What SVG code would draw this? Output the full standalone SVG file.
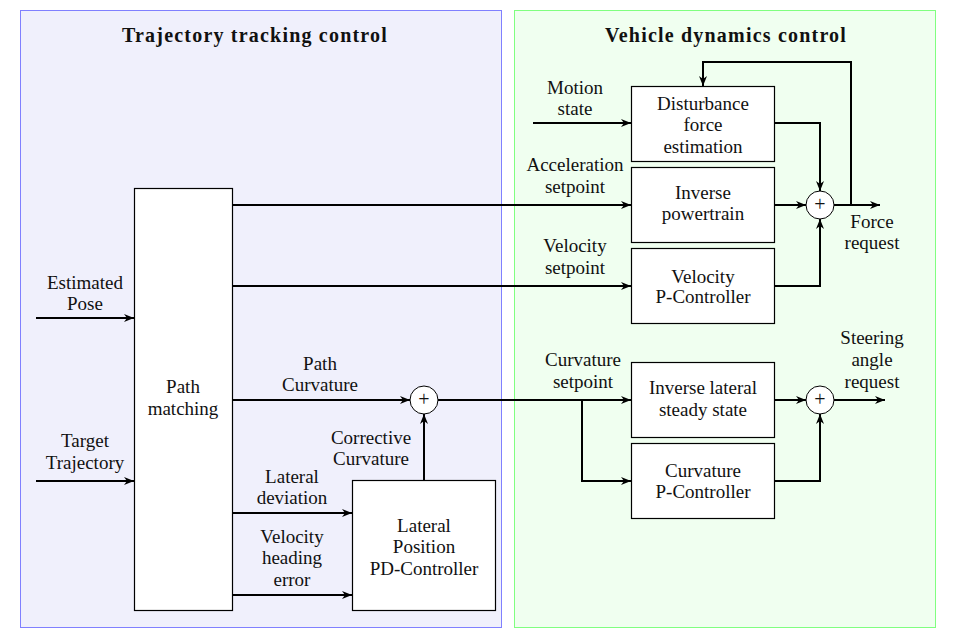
<svg xmlns="http://www.w3.org/2000/svg" width="957" height="643" viewBox="0 0 957 643">
<defs>
<marker id="ar" viewBox="0 0 10 10" refX="10" refY="5" markerWidth="10" markerHeight="10" markerUnits="userSpaceOnUse" orient="auto">
<path d="M0,1 L10,5 L0,9 L3,5 Z" fill="#000"/>
</marker>
</defs>
<style>
text{fill:#111;text-anchor:middle}
.t{font-weight:bold;letter-spacing:1.2px}
.box{fill:#fff;stroke:#000;stroke-width:1.2}
.sum{fill:#fff;stroke:#000;stroke-width:1}
.c{fill:none;stroke:#000;stroke-width:2}
.a{marker-end:url(#ar)}
</style>
<rect x="20.5" y="10.5" width="481" height="617" fill="#f0f0fc" stroke="#8080ff" stroke-width="1"/>
<rect x="514.5" y="10.5" width="421" height="617" fill="#f0fff0" stroke="#80ff80" stroke-width="1"/>
<text class="t" font-family="Liberation Serif" font-size="20" x="255" y="42">Trajectory tracking control</text>
<text class="t" font-family="Liberation Serif" font-size="20" x="726" y="42">Vehicle dynamics control</text>

<g id="connectors">
<path class="c a" d="M533,123 H631"/>
<path class="c a" d="M232,205 H631"/>
<path class="c a" d="M232,286 H631"/>
<path class="c a" d="M774,123 H820 V191"/>
<path class="c a" d="M774,205 H806"/>
<path class="c a" d="M774,286 H820 V219"/>
<path class="c a" d="M834,205 H880"/>
<path class="c a" d="M851,205 V62 H703 V86"/>
<path class="c a" d="M232,400 H410"/>
<path class="c a" d="M424,480 V414"/>
<path class="c a" d="M438,400 H631"/>
<path class="c a" d="M582,400 V481 H631"/>
<path class="c a" d="M774,400 H806"/>
<path class="c a" d="M774,481 H820 V414"/>
<path class="c a" d="M834,400 H885"/>
<path class="c a" d="M36,318 H134"/>
<path class="c a" d="M36,481 H134"/>
<path class="c a" d="M232,513 H352"/>
<path class="c a" d="M232,595 H352"/>
</g>

<g id="labels">
<text font-family="Liberation Serif" font-size="19" x="575" y="94">Motion</text><text font-family="Liberation Serif" font-size="19" x="575" y="115">state</text>
<text font-family="Liberation Serif" font-size="19" x="575" y="171">Acceleration</text><text font-family="Liberation Serif" font-size="19" x="575" y="193">setpoint</text>
<text font-family="Liberation Serif" font-size="19" x="575" y="252">Velocity</text><text font-family="Liberation Serif" font-size="19" x="575" y="274">setpoint</text>
<text font-family="Liberation Serif" font-size="19" x="872" y="228">Force</text><text font-family="Liberation Serif" font-size="19" x="872" y="249">request</text>
<text font-family="Liberation Serif" font-size="19" x="583" y="366">Curvature</text><text font-family="Liberation Serif" font-size="19" x="583" y="388">setpoint</text>
<text font-family="Liberation Serif" font-size="19" x="872" y="344">Steering</text><text font-family="Liberation Serif" font-size="19" x="872" y="366">angle</text><text font-family="Liberation Serif" font-size="19" x="872" y="388">request</text>
<text font-family="Liberation Serif" font-size="19" x="85" y="289">Estimated</text><text font-family="Liberation Serif" font-size="19" x="85" y="310">Pose</text>
<text font-family="Liberation Serif" font-size="19" x="85" y="447">Target</text><text font-family="Liberation Serif" font-size="19" x="85" y="469">Trajectory</text>
<text font-family="Liberation Serif" font-size="19" x="320" y="370">Path</text><text font-family="Liberation Serif" font-size="19" x="320" y="391">Curvature</text>
<text font-family="Liberation Serif" font-size="19" x="371" y="444">Corrective</text><text font-family="Liberation Serif" font-size="19" x="371" y="465">Curvature</text>
<text font-family="Liberation Serif" font-size="19" x="292" y="483">Lateral</text><text font-family="Liberation Serif" font-size="19" x="292" y="504">deviation</text>
<text font-family="Liberation Serif" font-size="19" x="292" y="543">Velocity</text><text font-family="Liberation Serif" font-size="19" x="292" y="564">heading</text><text font-family="Liberation Serif" font-size="19" x="292" y="586">error</text>
</g>

<g id="path-matching"><rect class="box" x="134.5" y="188.5" width="98" height="422"/>
<text font-family="Liberation Serif" font-size="19" x="183" y="393">Path</text><text font-family="Liberation Serif" font-size="19" x="183" y="415">matching</text></g>
<g id="lateral-pd"><rect class="box" x="352.5" y="480.5" width="143" height="130"/>
<text font-family="Liberation Serif" font-size="19" x="424" y="532">Lateral</text><text font-family="Liberation Serif" font-size="19" x="424" y="553">Position</text><text font-family="Liberation Serif" font-size="19" x="424" y="575">PD-Controller</text></g>
<g id="sum-left"><circle class="sum" cx="424" cy="400" r="14"/><text font-family="Liberation Serif" font-size="20" x="424" y="406">+</text></g>
<g id="disturbance"><rect class="box" x="631.5" y="86.5" width="143" height="75"/>
<text font-family="Liberation Serif" font-size="19" x="703" y="110">Disturbance</text><text font-family="Liberation Serif" font-size="19" x="703" y="131">force</text><text font-family="Liberation Serif" font-size="19" x="703" y="153">estimation</text></g>
<g id="inv-powertrain"><rect class="box" x="631.5" y="167.5" width="143" height="75"/>
<text font-family="Liberation Serif" font-size="19" x="703" y="199">Inverse</text><text font-family="Liberation Serif" font-size="19" x="703" y="220">powertrain</text></g>
<g id="velocity-p"><rect class="box" x="631.5" y="248.5" width="143" height="75"/>
<text font-family="Liberation Serif" font-size="19" x="703" y="283">Velocity</text><text font-family="Liberation Serif" font-size="19" x="703" y="303">P-Controller</text></g>
<g id="inv-lateral"><rect class="box" x="631.5" y="362.5" width="143" height="75"/>
<text font-family="Liberation Serif" font-size="19" x="703" y="394">Inverse lateral</text><text font-family="Liberation Serif" font-size="19" x="703" y="416">steady state</text></g>
<g id="curvature-p"><rect class="box" x="631.5" y="443.5" width="143" height="75"/>
<text font-family="Liberation Serif" font-size="19" x="703" y="477">Curvature</text><text font-family="Liberation Serif" font-size="19" x="703" y="498">P-Controller</text></g>
<g id="sum-force"><circle class="sum" cx="820" cy="205" r="14"/><text font-family="Liberation Serif" font-size="20" x="820" y="211">+</text></g>
<g id="sum-steer"><circle class="sum" cx="820" cy="400" r="14"/><text font-family="Liberation Serif" font-size="20" x="820" y="406">+</text></g>
</svg>
